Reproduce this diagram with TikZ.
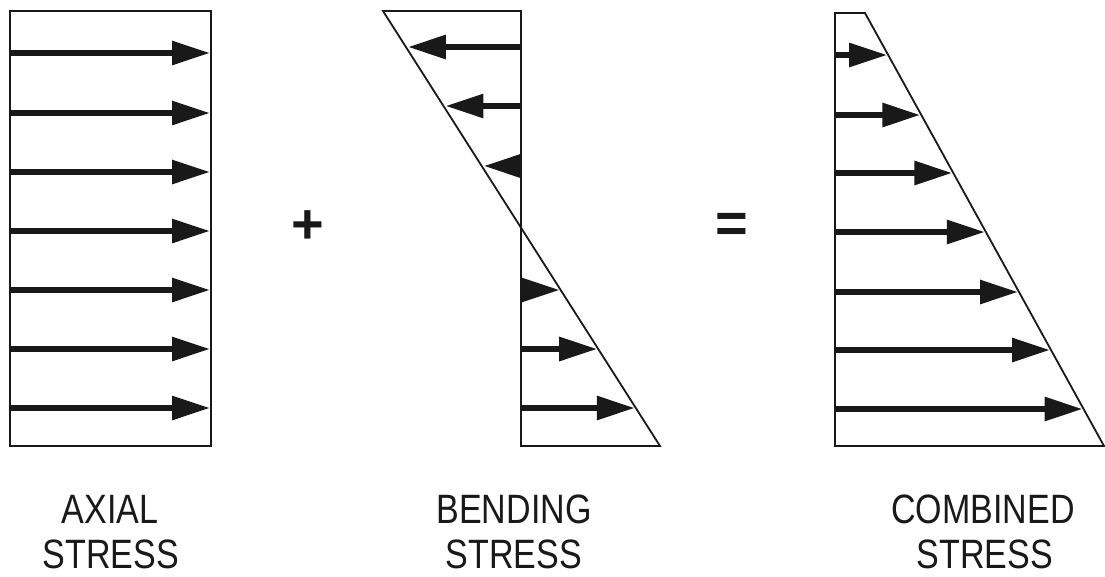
\documentclass[tikz,border=0pt]{standalone}
\usepackage{fontspec}
\newfontfamily\labfont[FakeStretch=0.83]{Liberation Sans}
\usetikzlibrary{arrows.meta}
\begin{document}
\begin{tikzpicture}[x=1pt,y=-1pt,
  outline/.style={line width=1.8pt, line join=miter, draw=black!90},
  force/.style={line width=6pt, draw=black!90, -{Triangle[length=38pt,width=23pt]}},
  lab/.style={font=\labfont\fontsize{41}{46}\selectfont, text=black!90, anchor=base, inner sep=0pt},
  op/.style={font=\fontspec{Liberation Sans Bold}\fontsize{56}{56}\selectfont, text=black!90, inner sep=0pt}]
\useasboundingbox (0,0) rectangle (1105,576);
% ---- axial ----
\draw[outline] (10,11) rectangle (211,446);
\foreach \y in {53,113,172,231,290,349,408}
  \draw[force] (10,\y) -- (210,\y);
% ---- bending ----
\coordinate (bt) at (383,11);
\coordinate (bb) at (660,446);
\draw[outline] (bt) -- (521,11) -- (521,446) -- (bb) -- cycle;
\foreach \y in {47,106,166}
  \draw[force] (521,\y) -- ({383+(\y-11)/435*277+2},\y);
\foreach \y in {290,349,408}
  \draw[force] (521,\y) -- ({383+(\y-11)/435*277-1},\y);
% ---- combined ----
\draw[outline] (835,13) -- (865,13) -- (1104,446) -- (835,446) -- cycle;
\foreach \y in {55,115,173,232,292,350,409}
  \draw[force] (835,\y) -- ({865+(\y-13)/433*239-1},\y);
% ---- operators ----
\node[op] (plus) at (308,227) {+};
\node[op] (eq) at (732,228) {=};
% ---- labels ----
\node[lab] (a1) at (110,523) {AXIAL};
\node[lab] (a2) at (111,568) {STRESS};
\node[lab] (b1) at (514,523) {BENDING};
\node[lab] (b2) at (514,568) {STRESS};
\node[lab] (c1) at (983,523) {COMBINED};
\node[lab] (c2) at (985,568) {STRESS};
\end{tikzpicture}
\end{document}
